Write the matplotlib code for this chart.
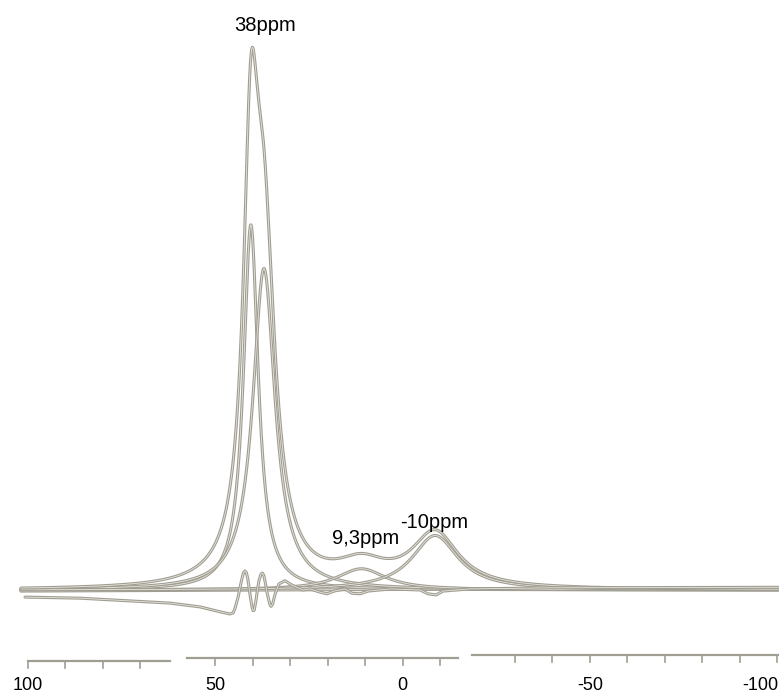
import numpy as np
import matplotlib.pyplot as plt

# fitted components: centre (ppm), height, half width (ppm)
peak_centres = [40.5, 37.0, 11.0, -8.7]
peak_heights = [67.0, 59.0, 3.9, 10.0]
peak_widths = [2.4, 3.6, 8.0, 7.5]

# difference curve (ppm, intensity)
resid_ppm = [100.8, 86.1, 72.8, 62.1, 54.1, 48.7, 46.1, 45.2, 44.7, 43.9, 43.4,
             42.9, 42.5, 42.1, 41.7, 41.3, 40.7, 40.2, 39.9, 39.6, 39.1, 38.7,
             38.3, 37.8, 37.4, 37.0, 36.6, 36.2, 35.4, 35.1, 34.7, 34.0, 33.0,
             31.4, 29.5, 26.6, 24.7, 22.0, 20.2, 18.3, 15.4, 13.5, 11.3, 9.2,
             3.3, -4.7, -6.8, -9.0, -10.8, -18.0, -39.4, -100.5]
resid_int = [-1.3, -1.5, -2.0, -2.4, -3.1, -4.0, -4.4, -4.2, -3.3, -1.3, 0.4,
             2.0, 3.1, 3.5, 3.2, 2.0, -0.9, -3.1, -3.8, -3.7, -1.8, 0.2,
             1.8, 2.9, 3.1, 2.6, 1.2, -0.4, -2.7, -3.0, -2.6, -0.7, 1.1,
             1.7, 0.9, 0.0, 0.2, -0.4, -0.7, -0.2, 0.2, -0.6, -0.7, -0.2,
             0.2, 0.0, -0.7, -0.9, -0.2, 0.2, 0.4, 0.5]

tick_ppm = [100, 90, 80, 70, 50, 40, 30, 20, 10, 0, -10, -30, -40, -50, -60, -70, -80, -90, -100]
label_ppm = [100, 50, 0, -50, -100]
label_txt = ["100", "50", "0", "-50", "-100"]

line_col = "#a09e92"

x = np.linspace(101.9, -100.5, 4000)
comps = []
for c, h, w in zip(peak_centres, peak_heights, peak_widths):
    comps.append(h / (1 + ((x - c) / w) ** 2))
total = np.sum(comps, axis=0)

fig = plt.figure(figsize=(7.79, 6.96), dpi=100)
ax = fig.add_axes([0, 0, 1, 1])
ax.set_xlim(107.48, -100.53)
ax.set_ylim(-19.45, 108.26)
ax.axis("off")

def sketch(xs, ys):
    ax.plot(xs, ys, color=line_col, lw=2.2, solid_capstyle="round", solid_joinstyle="round")
    ax.plot(xs, ys, color="#e6e4dc", lw=0.6)

sketch([101.9, -100.5], [-0.2, 0.4])
for comp in comps:
    sketch(x, comp)
sketch(x, total)
sketch(resid_ppm, resid_int)

# broken ppm scale, three pieces as in the scan
pieces = [(100.0, 62.0, -13.0), (57.5, -14.8, -12.5), (-18.6, -100.5, -11.9)]
for x0, x1, y0 in pieces:
    ax.plot([x0, x1], [y0, y0], color=line_col, lw=1.6)
    for t in tick_ppm:
        if x1 <= t <= x0:
            ax.plot([t, t], [y0, y0 - 1.3], color=line_col, lw=1.2)

for t, s in zip(label_ppm, label_txt):
    ha = "right" if t == -100 else "center"
    xt = -100.4 if t == -100 else t
    ax.text(xt, -17.6, s, ha=ha, va="center", fontsize=13, family="Liberation Sans")

ax.text(36.8, 103.6, "38ppm", ha="center", va="center", fontsize=14.5, family="Liberation Sans")
ax.text(9.9, 9.4, "9,3ppm", ha="center", va="center", fontsize=14.5, family="Liberation Sans")
ax.text(-8.4, 12.3, "-10ppm", ha="center", va="center", fontsize=14.5, family="Liberation Sans")

fig.savefig("out.png", dpi=100, facecolor="white")
